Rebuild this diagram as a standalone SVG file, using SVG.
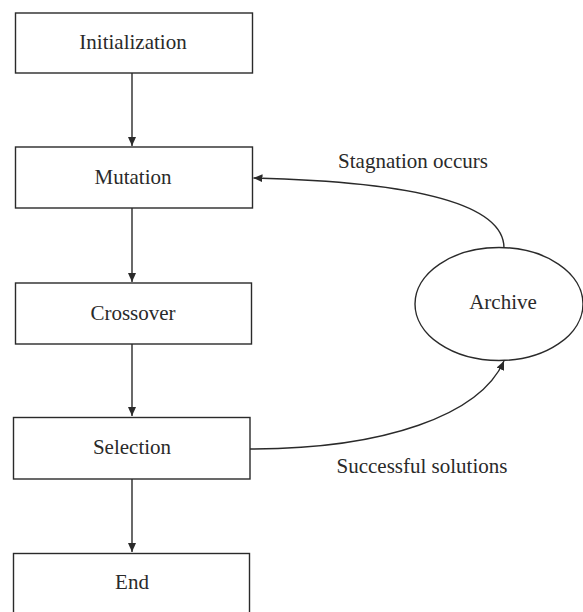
<svg xmlns="http://www.w3.org/2000/svg" width="583" height="612" viewBox="0 0 583 612">
<style>
.box{fill:#fff;stroke:#2a2a2a;stroke-width:1.4}
.lbl{font-family:"Liberation Serif","Times New Roman",serif;font-size:21px;fill:#2a2a2a;text-anchor:middle}
.con{fill:none;stroke:#2a2a2a;stroke-width:1.4}
</style>
<defs>
<marker id="ah" markerWidth="10" markerHeight="8" refX="9" refY="4" orient="auto" markerUnits="userSpaceOnUse">
<path d="M0,0 L9,4 L0,8 Z" fill="#2a2a2a"/>
</marker>
</defs>
<rect width="583" height="612" fill="#fff"/>
<g id="connectors">
<line class="con" x1="132" y1="73" x2="132" y2="146" marker-end="url(#ah)"/>
<line class="con" x1="132" y1="208" x2="132" y2="282" marker-end="url(#ah)"/>
<line class="con" x1="132" y1="344" x2="132" y2="416" marker-end="url(#ah)"/>
<line class="con" x1="132" y1="479" x2="132" y2="552" marker-end="url(#ah)"/>
<path class="con" d="M504,248 C504,205 420,182 253.5,178" marker-end="url(#ah)"/>
<path class="con" d="M250,449 C385,449 480,415 504,361" marker-end="url(#ah)"/>
<text class="lbl" x="413" y="168">Stagnation occurs</text>
<text class="lbl" x="422" y="473">Successful solutions</text>
</g>
<g id="initialization">
<rect class="box" x="15.5" y="13" width="237" height="60"/>
<text class="lbl" x="133" y="49">Initialization</text>
</g>
<g id="mutation">
<rect class="box" x="15.5" y="147" width="237" height="61"/>
<text class="lbl" x="133" y="184">Mutation</text>
</g>
<g id="crossover">
<rect class="box" x="15.5" y="283" width="236" height="61"/>
<text class="lbl" x="133" y="320">Crossover</text>
</g>
<g id="selection">
<rect class="box" x="13.5" y="417.5" width="236.5" height="61.5"/>
<text class="lbl" x="132" y="454">Selection</text>
</g>
<g id="end">
<rect class="box" x="13.5" y="553.5" width="236" height="70"/>
<text class="lbl" x="132" y="589">End</text>
</g>
<g id="archive">
<ellipse class="box" cx="499" cy="304" rx="84" ry="56.5"/>
<text class="lbl" x="503" y="309">Archive</text>
</g>
</svg>
